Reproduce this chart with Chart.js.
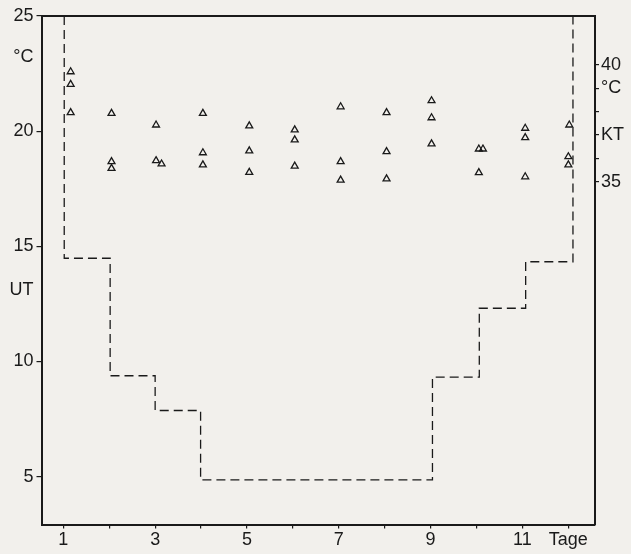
<!DOCTYPE html>
<html>

<head>
    <title>UT / KT</title>
    <script src="https://cdn.jsdelivr.net/npm/chart.js"></script>
    <style type="text/css">
        body {
            margin: 0;
            background-color: #f2f0ec;
        }

        .chart-container {
            position: relative;
            width: 631px;
            height: 554px;
        }
    </style>
</head>

<body>
    <div class="chart-container">
        <canvas id="myChart"></canvas>
    </div>

    <script>
        // KT (Dreiecke, rechte Achse)
        const ktDays = [1.16, 1.16, 1.16, 2.05, 2.05, 2.05, 3.02, 3.02, 3.14, 4.04, 4.04, 4.04,
            5.05, 5.05, 5.05, 6.04, 6.04, 6.04, 7.04, 7.04, 7.04, 8.04, 8.04, 8.04,
            9.02, 9.02, 9.02, 10.05, 10.14, 10.05, 11.06, 11.06, 11.06, 12.02, 12.0, 12.0];
        const ktValues = [39.71, 39.17, 37.96, 37.93, 35.86, 35.57, 37.43, 35.90, 35.76, 37.93, 36.24, 35.72,
            37.39, 36.32, 35.40, 37.22, 36.79, 35.67, 38.21, 35.86, 35.07, 37.96, 36.29, 35.12,
            38.47, 37.74, 36.62, 36.40, 36.40, 35.39, 37.29, 36.89, 35.21, 37.43, 36.07, 35.72];

        // UT (gestrichelte Treppe, linke Achse)
        const utDays = [1.02, 1.02, 2.02, 3.0, 3.99, 9.04, 10.06, 11.07, 12.1];
        const utValues = [25, 14.48, 9.38, 7.87, 4.86, 9.32, 12.31, 14.33, 25];

        const dayTicks = [1, 2, 3, 4, 5, 6, 7, 8, 9, 10, 11, 12];
        const dayLabels = ['1', '', '3', '', '5', '', '7', '', '9', '', '11', 'Tage'];
        const utTicks = [5, 10, 13.1, 15, 20, 23.2, 25];
        const utLabels = ['5', '10', 'UT', '15', '20', '°C', '25'];
        const ktTicks = [35, 36, 37, 38, 39, 40];
        const ktLabels = ['35', '', 'KT', '', '°C', '40'];

        const ink = '#1a1a1a';
        const font = { family: 'Liberation Sans', size: 18 };

        var ctx = document.getElementById('myChart').getContext('2d');
        var myChart = new Chart(ctx, {
            type: 'scatter',
            data: {
                datasets: [{
                    label: 'UT',
                    data: utDays.map((d, i) => ({ x: d, y: utValues[i] })),
                    yAxisID: 'y',
                    showLine: true,
                    stepped: 'before',
                    borderColor: ink,
                    borderWidth: 1.3,
                    borderDash: [9, 5],
                    pointRadius: 0,
                    fill: false
                }, {
                    label: 'KT',
                    data: ktDays.map((d, i) => ({ x: d, y: ktValues[i] })),
                    yAxisID: 'yKT',
                    pointStyle: 'triangle',
                    pointRadius: 4,
                    pointBorderWidth: 1.3,
                    borderColor: ink,
                    backgroundColor: 'rgba(0,0,0,0)'
                }]
            },
            options: {
                responsive: true,
                maintainAspectRatio: false,
                animation: false,
                layout: { padding: { top: 16, left: 0, right: 0, bottom: 0 } },
                plugins: {
                    legend: { display: false },
                    tooltip: { enabled: false }
                },
                scales: {
                    x: {
                        type: 'linear',
                        position: 'bottom',
                        min: 0.525,
                        max: 12.58,
                        afterBuildTicks: s => { s.ticks = dayTicks.map(v => ({ value: v })); },
                        afterFit: s => { s.height = 29.5; },
                        ticks: {
                            autoSkip: false,
                            maxRotation: 0,
                            padding: 1,
                            color: ink,
                            font: font,
                            callback: v => dayLabels[dayTicks.indexOf(v)]
                        },
                        grid: { drawOnChartArea: false, tickLength: 4, color: ink, lineWidth: 1.2 },
                        border: { color: ink, width: 2 }
                    },
                    xTop: {
                        type: 'linear',
                        position: 'top',
                        min: 0.525,
                        max: 12.58,
                        afterFit: s => { s.height = 0; },
                        ticks: { display: false },
                        grid: { drawOnChartArea: false, drawTicks: false },
                        border: { color: ink, width: 2 }
                    },
                    y: {
                        type: 'linear',
                        position: 'left',
                        min: 2.92,
                        max: 25,
                        afterBuildTicks: s => { s.ticks = utTicks.map(v => ({ value: v })); },
                        afterFit: s => { s.width = 41.5; },
                        ticks: {
                            autoSkip: false,
                            padding: 3,
                            color: ink,
                            font: font,
                            callback: v => utLabels[utTicks.indexOf(v)]
                        },
                        grid: {
                            drawOnChartArea: false,
                            tickLength: 5,
                            lineWidth: 1.2,
                            tickColor: c => (c.tick && c.tick.value % 5 === 0) ? ink : 'rgba(0,0,0,0)'
                        },
                        border: { color: ink, width: 2 }
                    },
                    yKT: {
                        type: 'linear',
                        position: 'right',
                        min: 20.31,
                        max: 42.1,
                        afterBuildTicks: s => { s.ticks = ktTicks.map(v => ({ value: v })); },
                        afterFit: s => { s.width = 36; },
                        ticks: {
                            autoSkip: false,
                            padding: 2,
                            color: ink,
                            font: font,
                            callback: v => ktLabels[ktTicks.indexOf(v)]
                        },
                        grid: { drawOnChartArea: false, tickLength: 4, color: ink, lineWidth: 1.2 },
                        border: { color: ink, width: 2 }
                    }
                }
            }
        });
    </script>
</body>

</html>
